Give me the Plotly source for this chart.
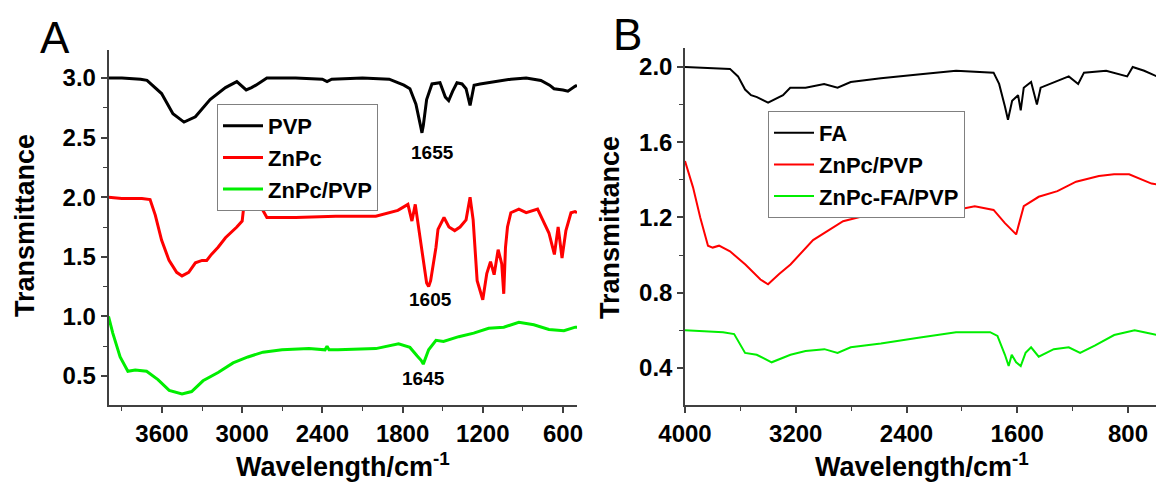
import plotly.graph_objects as go

# ---------------- Panel A data ----------------
pvp_x = [4000, 3900, 3760, 3712, 3603, 3518, 3435, 3350, 3240, 3125, 3040, 2970, 2930, 2897, 2815,
         2600, 2400, 2365, 2330, 2100, 1900, 1835, 1790, 1745, 1700, 1662, 1655, 1645, 1620, 1580,
         1520, 1480, 1455, 1425, 1393, 1355, 1325, 1295, 1265, 1220, 1155, 990, 875, 765, 700, 667,
         600, 563, 510, 495]
pvp_y = [3.0, 3.0, 2.99, 2.98, 2.87, 2.70, 2.63, 2.675, 2.82, 2.92, 2.97, 2.90, 2.92, 2.94, 3.0,
         3.0, 2.99, 2.97, 2.99, 3.0, 2.99, 2.96, 2.94, 2.91, 2.78, 2.58, 2.54, 2.60, 2.82, 2.95,
         2.96, 2.84, 2.81, 2.89, 2.96, 2.95, 2.91, 2.77, 2.94, 2.95, 2.96, 2.99, 3.0, 2.98, 2.94, 2.91,
         2.90, 2.89, 2.93, 2.94]

znpc_x = [4000, 3900, 3750, 3689, 3650, 3603, 3547, 3490, 3450, 3400, 3350, 3300, 3265, 3230, 3180,
          3125, 3040, 3000, 2985, 2942, 2900, 2873, 2840, 2815, 2600, 2300, 2000, 1835, 1760, 1730,
          1705, 1675, 1640, 1620, 1605, 1590, 1550, 1535, 1490, 1453, 1410, 1370, 1325, 1295, 1272,
          1242, 1200, 1170, 1142, 1115, 1085, 1058, 1043, 1030, 1015, 990, 930, 875, 790, 750, 705,
          664, 636, 607, 578, 540, 510, 495]
znpc_y = [2.0, 1.99, 1.99, 1.98, 1.85, 1.64, 1.47, 1.37, 1.34, 1.37, 1.45, 1.47, 1.47, 1.52, 1.58,
          1.66, 1.75, 1.80, 1.95, 1.96, 1.95, 1.95, 1.88, 1.83, 1.83, 1.84, 1.84, 1.89, 1.94, 1.80,
          1.94, 1.70, 1.40, 1.28, 1.25, 1.30, 1.58, 1.73, 1.83, 1.75, 1.72, 1.75, 1.81, 2.0, 1.81,
          1.30, 1.14, 1.36, 1.46, 1.35, 1.56, 1.44, 1.19, 1.58, 1.75, 1.87, 1.90, 1.87, 1.90, 1.81, 1.70,
          1.52, 1.75, 1.49, 1.72, 1.87, 1.88, 1.87]

znpcpvp_a_x = [4000, 3968, 3913, 3855, 3800, 3715, 3630, 3546, 3450, 3378, 3293, 3180, 3068, 2957, 2844,
               2702, 2500, 2380, 2365, 2350, 2283, 2000, 1830, 1745, 1692, 1660, 1645, 1605, 1550, 1494,
               1380, 1268, 1156, 1043, 930, 818, 705, 593, 508, 495]
znpcpvp_a_y = [1.0, 0.86, 0.66, 0.54, 0.55, 0.54, 0.47, 0.38, 0.35, 0.37, 0.46, 0.53, 0.61, 0.66, 0.70,
               0.72, 0.73, 0.72, 0.75, 0.72, 0.72, 0.73, 0.77, 0.74, 0.67, 0.63, 0.60, 0.72, 0.80, 0.79,
               0.83, 0.86, 0.90, 0.91, 0.95, 0.93, 0.89, 0.88, 0.91, 0.91]

# ---------------- Panel B data ----------------
fa_x = [4000, 3800, 3675, 3617, 3566, 3523, 3480, 3400, 3346, 3292, 3240, 3129, 2995, 2898, 2803,
        2585, 2317, 2042, 1771, 1731, 1689, 1667, 1637, 1594, 1575, 1553, 1500, 1458, 1431, 1336,
        1228, 1160, 1118, 958, 806, 766, 683, 561, 540]
fa_y = [2.0, 1.995, 1.99, 1.95, 1.88, 1.85, 1.84, 1.81, 1.83, 1.85, 1.89, 1.89, 1.91, 1.89, 1.92,
        1.94, 1.96, 1.98, 1.97, 1.91, 1.79, 1.72, 1.82, 1.85, 1.77, 1.89, 1.92, 1.80, 1.89, 1.92,
        1.95, 1.91, 1.97, 1.98, 1.95, 2.0, 1.98, 1.94, 1.96]

znpcpvp_b_x = [4000, 3942, 3890, 3834, 3800, 3754, 3675, 3564, 3455, 3400, 3320, 3238, 3075, 2858, 2695,
               2360, 2341, 2320, 2178, 1907, 1771, 1689, 1608, 1553, 1445, 1310, 1175, 1010, 901, 792,
               630, 540]
znpcpvp_b_y = [1.50, 1.36, 1.20, 1.05, 1.04, 1.05, 1.02, 0.95, 0.87, 0.845, 0.90, 0.95, 1.08, 1.18, 1.21,
               1.22, 1.25, 1.21, 1.22, 1.26, 1.24, 1.17, 1.11, 1.26, 1.31, 1.34, 1.39, 1.42, 1.43, 1.43,
               1.38, 1.37]

znpcfapvp_x = [4000, 3725, 3645, 3566, 3482, 3374, 3238, 3129, 2993, 2898, 2803, 2585, 2314, 2042, 1796,
               1743, 1689, 1662, 1640, 1608, 1575, 1540, 1500, 1445, 1336, 1228, 1146, 1037, 900, 752,
               683, 561, 540]
znpcfapvp_y = [0.60, 0.59, 0.58, 0.48, 0.47, 0.43, 0.47, 0.49, 0.50, 0.48, 0.51, 0.53, 0.56, 0.59, 0.59,
               0.57, 0.47, 0.41, 0.47, 0.43, 0.41, 0.48, 0.51, 0.46, 0.50, 0.51, 0.48, 0.52, 0.575, 0.60,
               0.59, 0.57, 0.55]

# ---------------- Text ----------------
names_a = ["PVP", "ZnPc", "ZnPc/PVP"]
names_b = ["FA", "ZnPc/PVP", "ZnPc-FA/PVP"]
peak_labels = ["1655", "1605", "1645"]
x_title = "Wavelength/cm<sup>-1</sup>"
y_title = "Transmittance"

W, H = 1164, 490
OFF = 8  # page body margin offset
FONT = "Liberation Sans"
AX = "#404040"
colors = ["#000000", "#ff0000", "#00ee00"]

def px(x):
    return (x - OFF) / W

def py(y):
    return 1 - (y - OFF) / H

fig = go.Figure()
for name, xs, ys, c in zip(names_a, [pvp_x, znpc_x, znpcpvp_a_x], [pvp_y, znpc_y, znpcpvp_a_y], colors):
    fig.add_trace(go.Scatter(x=xs, y=ys, mode="lines", name=name, line=dict(color=c, width=3),
                             xaxis="x", yaxis="y", legend="legend"))
for name, xs, ys, c in zip(names_b, [fa_x, znpcpvp_b_x, znpcfapvp_x], [fa_y, znpcpvp_b_y, znpcfapvp_y], colors):
    fig.add_trace(go.Scatter(x=xs, y=ys, mode="lines", name=name, line=dict(color=c, width=2),
                             xaxis="x2", yaxis="y2", legend="legend2"))

tickfont = dict(family=FONT, size=24, color="black", weight="bold")
base = dict(showline=True, linecolor=AX, linewidth=1.5, ticks="outside", ticklen=6, tickwidth=1.5,
            tickcolor=AX, showgrid=False, zeroline=False, mirror=False, tickfont=tickfont,
            automargin=False)

legfont = dict(family=FONT, size=22, color="black", weight="bold")

fig.update_layout(
    template="none",
    width=W, height=H, autosize=False,
    margin=dict(l=0, r=0, t=0, b=0, autoexpand=False),
    paper_bgcolor="white", plot_bgcolor="white",
    xaxis=dict(base, domain=[px(108.5), px(577)], range=[4000, 495], anchor="y",
               tick0=0, dtick=600,
               minor=dict(ticks="outside", ticklen=4, tickwidth=1.2, tickcolor=AX, dtick=300)),
    yaxis=dict(base, domain=[py(405), py(50)], range=[0.257, 3.235], anchor="x",
               tick0=0, dtick=0.5, tickformat=".1f",
               minor=dict(ticks="outside", ticklen=4, tickwidth=1.2, tickcolor=AX, dtick=0.25)),
    xaxis2=dict(base, domain=[px(685), px(1164)], range=[4000, 540], anchor="y2",
                tick0=0, dtick=800,
                minor=dict(ticks="outside", ticklen=4, tickwidth=1.2, tickcolor=AX, dtick=400)),
    yaxis2=dict(base, domain=[py(405), py(48)], range=[0.203, 2.101], anchor="x2",
                tick0=0, dtick=0.4, tickformat=".1f",
                minor=dict(ticks="outside", ticklen=4, tickwidth=1.2, tickcolor=AX, dtick=0.2)),
    legend=dict(x=px(217), y=py(104), xanchor="left", yanchor="top",
                bgcolor="white", bordercolor="#808080", borderwidth=1,
                font=legfont, tracegroupgap=0, itemwidth=40),
    legend2=dict(x=px(768), y=py(111), xanchor="left", yanchor="top",
                 bgcolor="white", bordercolor="#808080", borderwidth=1,
                 font=legfont, tracegroupgap=0, itemwidth=40),
    showlegend=True,
)

ann_font = dict(family=FONT, size=27, color="black", weight="bold")
peak_font = dict(family=FONT, size=19, color="black", weight="bold")
anns = [
    dict(x=px(343), y=py(465), text=x_title, font=ann_font),
    dict(x=px(922), y=py(465), text=x_title, font=ann_font),
    dict(x=px(25), y=py(226), text=y_title, font=ann_font, textangle=-90),
    dict(x=px(610), y=py(228), text=y_title, font=ann_font, textangle=-90),
    dict(x=px(55), y=py(38), text="A", font=dict(family=FONT, size=44, color="black")),
    dict(x=px(627), y=py(35), text="B", font=dict(family=FONT, size=44, color="black")),
    dict(x=px(432), y=py(152), text=peak_labels[0], font=peak_font),
    dict(x=px(430), y=py(299), text=peak_labels[1], font=peak_font),
    dict(x=px(423), y=py(378), text=peak_labels[2], font=peak_font),
]
for a in anns:
    a.update(xref="paper", yref="paper", showarrow=False, xanchor="center", yanchor="middle")
fig.update_layout(annotations=anns)

fig.write_html("out.html")
